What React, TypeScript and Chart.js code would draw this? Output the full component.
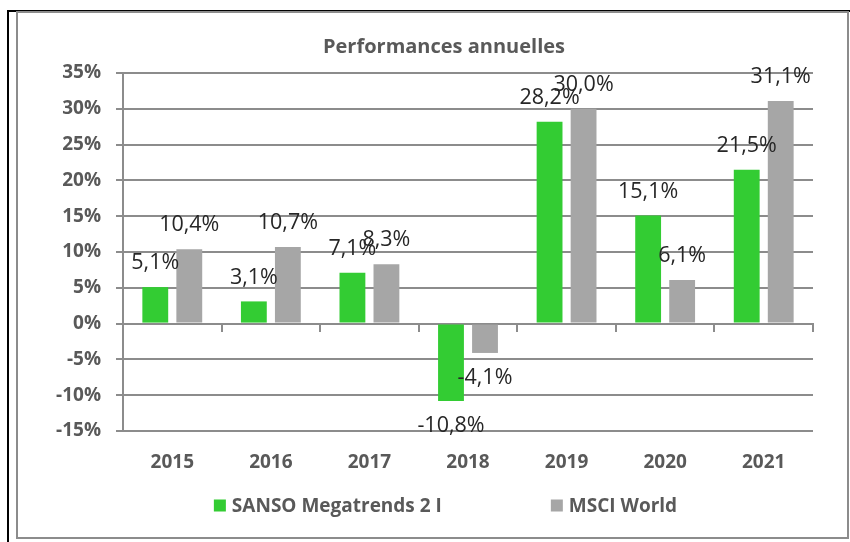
import React, { useEffect, useRef } from "react";
import { Chart, registerables } from "chart.js";

Chart.register(...registerables);

const years = ["2015", "2016", "2017", "2018", "2019", "2020", "2021"];
const sansoValues = [5.1, 3.1, 7.1, -10.8, 28.2, 15.1, 21.5];
const msciValues = [10.4, 10.7, 8.3, -4.1, 30.0, 6.1, 31.1];
const seriesNames = ["SANSO Megatrends 2 I", "MSCI World"];
const seriesColors = ["#33cc33", "#a6a6a6"];
const titleText = "Performances annuelles";

const GRID = "#8c8c8c";
const AXIS_TEXT = "#595959";
const FONT = "'Open Sans', 'DejaVu Sans', sans-serif";

const fmt = (v: number) => v.toFixed(1).replace(".", ",") + "%";

const dataLabelPlugin = {
  id: "dataLabels",
  afterDatasetsDraw(chart: any) {
    const ctx = chart.ctx;
    ctx.save();
    ctx.font = `400 21.5px ${FONT}`;
    ctx.fillStyle = "#262626";
    ctx.textAlign = "center";
    ctx.textBaseline = "middle";
    chart.data.datasets.forEach((ds: any, di: number) => {
      const meta = chart.getDatasetMeta(di);
      meta.data.forEach((el: any, i: number) => {
        const v = ds.data[i];
        const y = v >= 0 ? el.y - 24 : el.y + 25;
        ctx.fillText(fmt(v), el.x, y);
      });
    });
    ctx.restore();
  },
};

const titlePlugin = {
  id: "customTitle",
  afterDraw(chart: any) {
    const ctx = chart.ctx;
    ctx.save();
    ctx.font = `700 20px ${FONT}`;
    ctx.fillStyle = AXIS_TEXT;
    ctx.textAlign = "center";
    ctx.textBaseline = "middle";
    ctx.fillText(titleText, chart.width / 2 + 11.5, chart.chartArea.top - 26);
    ctx.restore();
  },
};

const legendPlugin = {
  id: "customLegend",
  afterDraw(chart: any) {
    const ctx = chart.ctx;
    ctx.save();
    ctx.font = `700 19px ${FONT}`;
    ctx.textBaseline = "middle";
    ctx.textAlign = "left";
    const box = 12;
    const boxGap = 6;
    const itemGap = 109;
    const items = chart.data.datasets.map((d: any) => ({
      text: d.label,
      color: d.backgroundColor,
      w: ctx.measureText(d.label).width,
    }));
    const total =
      items.reduce((s: number, it: any) => s + box + boxGap + it.w, 0) +
      itemGap * (items.length - 1);
    let x = chart.width / 2 + 13 - total / 2;
    const cy = chart.scales.x.bottom + 31.5;
    items.forEach((it: any) => {
      ctx.fillStyle = it.color;
      ctx.fillRect(x, cy - box / 2, box, box);
      x += box + boxGap;
      ctx.fillStyle = AXIS_TEXT;
      ctx.fillText(it.text, x, cy + 1);
      x += it.w + itemGap;
    });
    ctx.restore();
  },
};

export default function App() {
  const ref = useRef<HTMLCanvasElement | null>(null);

  useEffect(() => {
    if (!ref.current) return;
    const chart = new Chart(ref.current, {
      type: "bar",
      data: {
        labels: years,
        datasets: [
          {
            label: seriesNames[0],
            data: sansoValues,
            backgroundColor: seriesColors[0],
            categoryPercentage: 0.69,
            barPercentage: 0.76,
          },
          {
            label: seriesNames[1],
            data: msciValues,
            backgroundColor: seriesColors[1],
            categoryPercentage: 0.69,
            barPercentage: 0.76,
          },
        ],
      },
      options: {
        responsive: false,
        animation: false,
        layout: { padding: { left: 0, right: 34, top: 60, bottom: 63 } },
        plugins: {
          legend: { display: false },
          tooltip: { enabled: false },
          title: { display: false },
        },
        scales: {
          x: {
            type: "category",
            position: "bottom",
            grid: { display: false, drawTicks: false },
            border: { display: false },
            ticks: {
              color: AXIS_TEXT,
              padding: 20,
              font: { family: FONT, size: 19, weight: "bold" },
            },
            afterFit: (s: any) => {
              s.height = 43;
            },
          },
          x2: {
            type: "category",
            position: { y: 0 },
            offset: true,
            grid: {
              offset: true,
              drawOnChartArea: false,
              drawTicks: true,
              tickLength: 7,
              color: GRID,
              lineWidth: 2,
            },
            border: { display: true, color: GRID, width: 2 },
            ticks: { display: false },
          },
          y: {
            min: -15,
            max: 35,
            ticks: {
              stepSize: 5,
              color: AXIS_TEXT,
              padding: 15,
              font: { family: FONT, size: 19, weight: "bold" },
              callback: (v: any) => `${v}%`,
            },
            grid: { color: GRID, lineWidth: 2, tickLength: 7 },
            border: { display: true, color: GRID, width: 2 },
            afterFit: (s: any) => {
              s.width = 105;
            },
          },
        },
      } as any,
      plugins: [dataLabelPlugin, titlePlugin, legendPlugin],
    });
    return () => chart.destroy();
  }, []);

  return (
    <div
      style={{
        position: "absolute",
        left: 0,
        top: 0,
        width: 850,
        height: 542,
        background: "#ffffff",
        overflow: "hidden",
      }}
    >
      <div style={{ position: "absolute", left: 7, top: 10, width: 843, height: 2, background: "#000" }} />
      <div style={{ position: "absolute", left: 7, top: 10, width: 2, height: 532, background: "#000" }} />
      <div
        style={{
          position: "absolute",
          left: 16,
          top: 11,
          width: 833,
          height: 528,
          border: `2px solid ${GRID}`,
          boxSizing: "border-box",
          background: "#fff",
        }}
      />
      <canvas
        ref={ref}
        width={829}
        height={524}
        style={{ position: "absolute", left: 18, top: 13, width: 829, height: 524 }}
      />
    </div>
  );
}
